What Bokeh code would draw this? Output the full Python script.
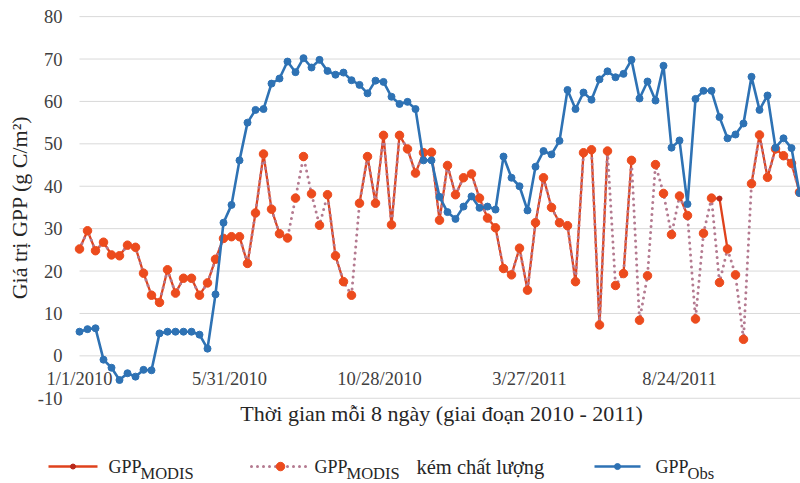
import numpy as np
import pandas as pd
from bokeh.plotting import figure
from bokeh.models import Range1d
from bokeh.core.properties import value
from bokeh.embed import file_html
from bokeh.resources import INLINE

# 8-day composite periods starting 1/1/2010
start_date = "2010-01-01"
step_days = 8

# GPP observed at the flux tower (g C/m2 per 8 days)
gpp_obs = [
    5.7, 6.3, 6.5, -0.9, -2.8, -5.7, -4.1, -4.9, -3.3, -3.4,
    5.3, 5.7, 5.7, 5.7, 5.7, 5.0, 1.7, 14.5, 31.4, 35.6,
    46.1, 55.0, 58.0, 58.2, 64.2, 65.4, 69.4, 66.9, 70.2, 68.0,
    69.8, 67.2, 66.3, 66.8, 65.0, 63.9, 61.9, 64.9, 64.6, 61.1,
    59.4, 59.9, 58.2, 46.1, 46.1, 37.5, 33.9, 32.3, 35.2, 37.6,
    34.9, 35.2, 34.5, 47.0, 42.0, 40.0, 34.3, 44.6, 48.3, 47.5,
    50.7, 62.7, 58.2, 62.1, 60.4, 65.2, 67.1, 65.7, 66.5, 69.8,
    60.7, 64.7, 60.2, 68.4, 49.1, 50.8, 35.8, 60.6, 62.5, 62.5,
    56.3, 51.3, 52.2, 54.8, 65.8, 58.0, 61.4, 49.1, 51.3, 49.0,
    38.4,
]

# MODIS GPP, every period including low-quality retrievals
gpp_modis_all = [
    25.2, 29.5, 24.8, 26.8, 23.8, 23.6, 26.1, 25.6, 19.5, 14.3,
    12.6, 20.3, 14.8, 18.3, 18.3, 14.3, 17.2, 22.8, 27.7, 28.1,
    28.1, 21.8, 33.7, 47.6, 34.6, 28.8, 27.8, 37.2, 47.0, 38.2,
    30.8, 38.0, 23.6, 17.5, 14.3, 36.0, 47.0, 36.0, 52.0, 30.9,
    52.0, 48.8, 43.1, 47.9, 48.0, 32.0, 44.9, 38.0, 42.0, 42.9,
    37.2, 32.5, 30.2, 20.6, 19.1, 25.4, 15.5, 31.4, 42.0, 35.0,
    31.4, 30.7, 17.5, 47.9, 48.6, 7.3, 48.3, 16.6, 19.4, 46.1,
    8.4, 18.9, 45.1, 38.3, 28.6, 37.7, 33.1, 8.7, 28.9, 37.2,
    17.3, 25.2, 19.1, 3.9, 40.6, 52.1, 42.1, 48.8, 47.2, 45.4,
    38.6,
]

# MODIS GPP, good-quality periods only (None = no good retrieval)
gpp_modis = [
    25.2, 29.5, 24.8, 26.8, 23.8, 23.6, 26.1, 25.6, 19.5, 14.3,
    12.6, 20.3, 14.8, 18.3, 18.3, 14.3, 17.2, 22.8, 27.7, 28.1,
    28.1, 21.8, 33.7, 47.6, 34.6, 28.8, 27.8, None, None, None,
    None, 38.0, 23.6, 17.5, None, 36.0, 47.0, 36.0, 52.0, 30.9,
    52.0, 48.8, 43.1, 47.9, 48.0, 32.0, 44.9, 38.0, 42.0, 42.9,
    37.2, 32.5, 30.2, 20.6, 19.1, 25.4, 15.5, 31.4, 42.0, 35.0,
    31.4, 30.7, 17.5, 47.9, 48.6, 7.3, 48.3, None, 19.4, 46.1,
    None, None, None, None, None, 37.7, 33.1, None, None, 37.2,
    37.1, 25.2, None, None, 40.6, 52.1, 42.1, 48.8, 47.2, 45.4,
    38.6,
]

y_ticks = [-10, 0, 10, 20, 30, 40, 50, 60, 70, 80]
y_tick_labels = [str(t) for t in y_ticks]
x_tick_labels = ["1/1/2010", "5/31/2010", "10/28/2010", "3/27/2011", "8/24/2011"]

x_title = "Thời gian mỗi 8 ngày (giai đoạn 2010 - 2011)"
y_title = "Giá trị GPP (g C/m²)"

SERIF = "Liberation Serif"
RED = "#DF421C"
ORANGE = "#EC4B1D"
DARK_RED = "#B8281A"
DOTS = "#B47A90"
BLUE = "#2E72B4"
GRID = "#D9D9D9"
TEXT = "#404040"
TITLE = "#262626"

t0 = pd.Timestamp(start_date)
day = np.arange(len(gpp_obs)) * step_days
tick_days = [(pd.Timestamp(s) - t0).days for s in x_tick_labels]
modis_good = np.array([np.nan if v is None else v for v in gpp_modis])
span_end = 721  # last day shown on the time axis

# The data frame fills the whole canvas so that the date labels, the
# titles and the legend strip can share one coordinate system with the data
# (x in days since 1/1/2010, y in g C/m2).
p = figure(width=800, height=483,
           x_range=Range1d(-79, span_end), y_range=Range1d(-30.1, 83.8),
           output_backend="svg", toolbar_location=None,
           min_border_left=0, min_border_right=0,
           min_border_top=0, min_border_bottom=0)
p.outline_line_color = None
p.axis.visible = False
p.grid.visible = False
p.background_fill_color = "white"
p.border_fill_color = "white"

# value axis: gridlines over the dated span and right-aligned tick labels
p.segment(x0=0, x1=span_end, y0=y_ticks, y1=y_ticks, line_color=GRID, line_width=1)
p.text(x=[-17] * len(y_ticks), y=y_ticks, text=y_tick_labels,
       text_align="right", text_baseline="middle",
       text_font=value(SERIF), text_font_size="18.5px", text_color=TEXT)
p.text(x=[-60], y=[35], text=[y_title], angle=np.pi / 2,
       text_align="center", text_baseline="middle",
       text_font=value(SERIF), text_font_size="22px", text_color=TITLE)

# time axis: date labels just under the zero line, title below the frame
p.text(x=tick_days, y=[-5.5] * len(tick_days), text=x_tick_labels,
       text_align="center", text_baseline="middle",
       text_font=value(SERIF), text_font_size="18.5px", text_color=TEXT)
p.text(x=[362], y=[-13.6], text=[x_title],
       text_align="center", text_baseline="middle",
       text_font=value(SERIF), text_font_size="22px", text_color=TITLE)

# MODIS good-quality series (solid)
p.line(day, modis_good, line_color=RED, line_width=2.3)
p.scatter(day, modis_good, size=5, fill_color=DARK_RED, line_color=DARK_RED)

# MODIS series including poor quality (dotted)
p.line(day, gpp_modis_all, line_color=DOTS, line_width=3, line_dash="0 6",
       line_cap="round")
p.scatter(day, gpp_modis_all, size=8.5, fill_color=ORANGE, line_color=ORANGE)

# observed GPP
p.line(day, gpp_obs, line_color=BLUE, line_width=2.6)
p.scatter(day, gpp_obs, size=7, fill_color=BLUE, line_color=BLUE)

# ---- legend strip ------------------------------------------------------
ly = -26.1       # legend row
sub_dy = -1.6    # subscript drop

p.line([-31, 18], [ly, ly], line_color=RED, line_width=2.5)
p.scatter([-6.5], [ly], size=5, fill_color=DARK_RED, line_color=DARK_RED)

p.line([172, 230], [ly, ly], line_color=DOTS, line_width=3, line_dash="0 6",
       line_cap="round")
p.scatter([201], [ly], size=8.5, fill_color=ORANGE, line_color=ORANGE)

p.line([515, 561], [ly, ly], line_color=BLUE, line_width=2.6)
p.scatter([538], [ly], size=6, fill_color=BLUE, line_color=BLUE)

p.text(x=[29, 235, 576], y=[ly] * 3, text=["GPP", "GPP", "GPP"],
       text_align="left", text_baseline="middle",
       text_font=value(SERIF), text_font_size="18px", text_color=TITLE)
p.text(x=[61, 267, 608], y=[ly + sub_dy] * 3, text=["MODIS", "MODIS", "Obs"],
       text_align="left", text_baseline="middle",
       text_font=value(SERIF), text_font_size="16.5px", text_color=TITLE)
p.text(x=[337], y=[ly], text=["kém chất lượng"],
       text_align="left", text_baseline="middle",
       text_font=value(SERIF), text_font_size="20.5px", text_color=TITLE)

open("out.html", "w").write(file_html(p, INLINE))
